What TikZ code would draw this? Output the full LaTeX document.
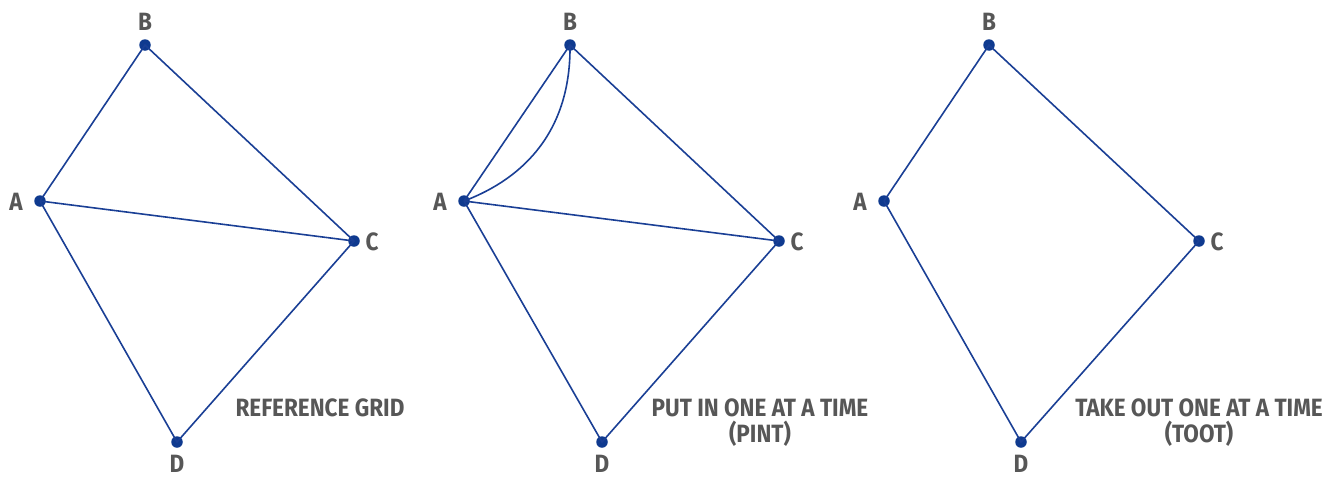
\documentclass[tikz,border=0pt]{standalone}
\usepackage{fontspec}
\setmainfont{Fira Sans}[FakeStretch=0.9]
\definecolor{edgeblue}{HTML}{1A3F95}
\definecolor{dotblue}{HTML}{0F3A8F}
\definecolor{labgray}{HTML}{575757}
\begin{document}
\begin{tikzpicture}[x=1pt,y=-1pt,
  vtx/.style={circle,fill=dotblue,inner sep=0pt,minimum size=11.5pt},
  lab/.style={text=labgray,font=\fontsize{25}{26}\selectfont\bfseries,inner sep=0pt},
  edge/.style={draw=edgeblue,line width=1.6pt},
  captext/.style={text=labgray,font=\fontsize{25}{26}\selectfont\bfseries,inner sep=0pt,align=center,anchor=north}]
\useasboundingbox (0,0) rectangle (1338,477);
% panel 1
\node[vtx] (A1) at (40,201) {};
\node[vtx] (B1) at (145,45) {};
\node[vtx] (C1) at (354,241) {};
\node[vtx] (D1) at (177,442) {};
\node[lab] (lA1) at (16,202) {A};
\node[lab] (lB1) at (145,22) {B};
\node[lab] (lC1) at (372,242) {C};
\node[lab] (lD1) at (177,464) {D};
\draw[edge] (A1.center) -- (B1.center) -- (C1.center) -- (D1.center) -- (A1.center);
\draw[edge] (A1.center) -- (C1.center);
\node[captext] (t1) at (320,399) {REFERENCE GRID};
% panel 2
\node[vtx] (A2) at (464,201) {};
\node[vtx] (B2) at (570,45) {};
\node[vtx] (C2) at (779,241) {};
\node[vtx] (D2) at (602,442) {};
\node[lab] (lA2) at (440,202) {A};
\node[lab] (lB2) at (570,22) {B};
\node[lab] (lC2) at (797,242) {C};
\node[lab] (lD2) at (602,464) {D};
\draw[edge] (A2.center) -- (B2.center) -- (C2.center) -- (D2.center) -- (A2.center);
\draw[edge] (A2.center) -- (C2.center);
\draw[edge] (A2.center) .. controls (525,178) and (571,130) .. (B2.center);
\node[captext] (t2) at (760,399) {PUT IN ONE AT A TIME\\(PINT)};
% panel 3
\node[vtx] (A3) at (884,201) {};
\node[vtx] (B3) at (989,45) {};
\node[vtx] (C3) at (1199,241) {};
\node[vtx] (D3) at (1021,442) {};
\node[lab] (lA3) at (860,202) {A};
\node[lab] (lB3) at (989,22) {B};
\node[lab] (lC3) at (1217,242) {C};
\node[lab] (lD3) at (1021,464) {D};
\draw[edge] (A3.center) -- (B3.center) -- (C3.center) -- (D3.center) -- (A3.center);
\node[captext] (t3) at (1199,399) {TAKE OUT ONE AT A TIME\\(TOOT)};
\end{tikzpicture}
\end{document}
